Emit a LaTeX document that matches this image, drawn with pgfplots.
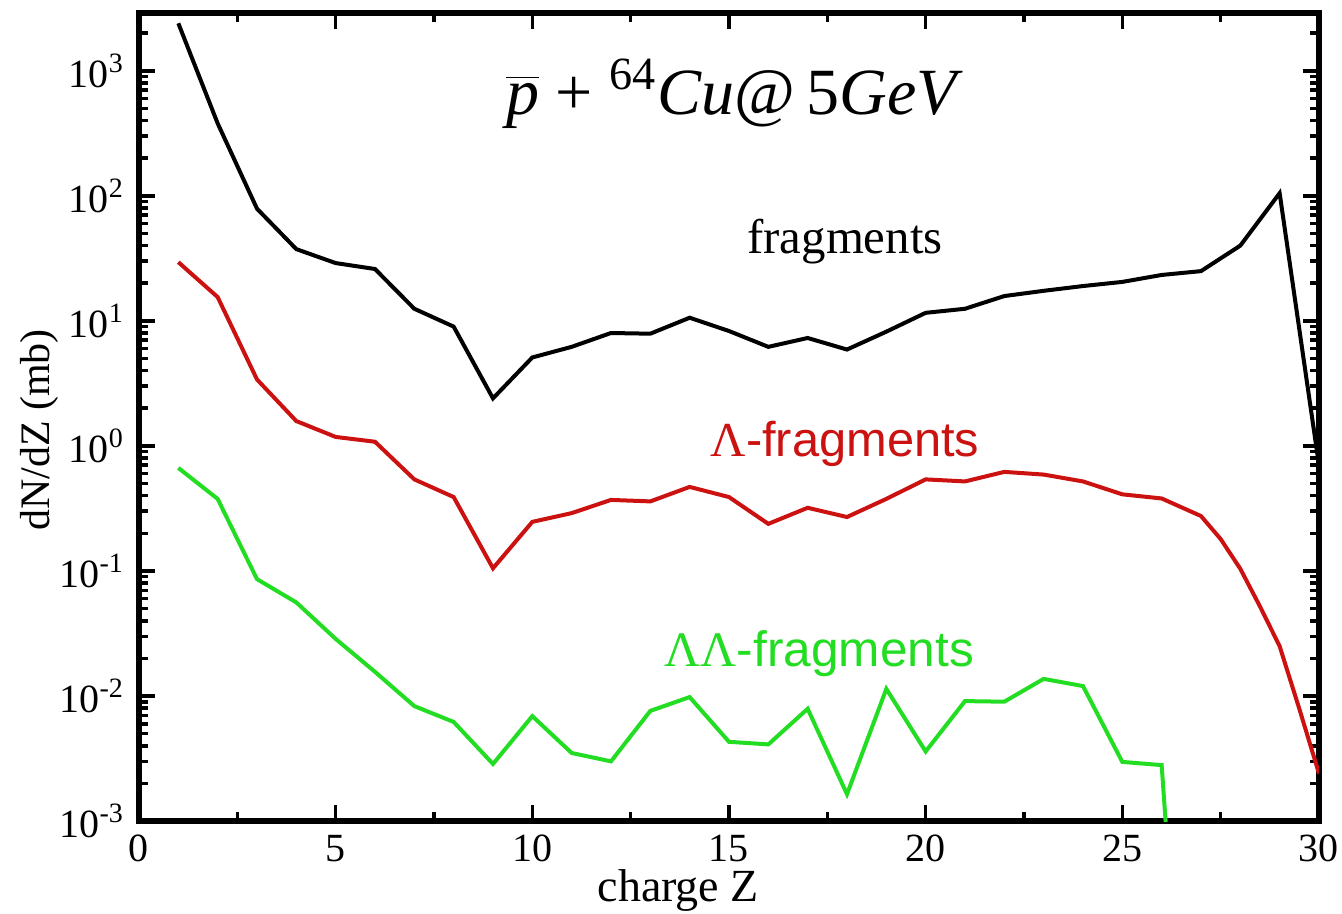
\documentclass[border=0pt]{standalone}
\usepackage{fontspec}
\setmainfont{Liberation Serif}
\setsansfont{Liberation Sans}
\usepackage{pgfplots}
\pgfplotsset{compat=1.18}
\definecolor{myred}{RGB}{204,17,17}
\definecolor{mygreen}{RGB}{34,221,34}
\begin{document}
\begin{tikzpicture}
\useasboundingbox (-34.75pt,-23pt) rectangle (300.75pt,205.25pt);
\begin{axis}[
  at={(0,0)}, anchor=south west,
  scale only axis, width=295pt, height=202pt,
  ymode=log, xmin=0, xmax=30, ymin=1e-3, ymax=2900,
  axis line style={line width=1.5pt},
  every tick/.style={black, line width=0.9pt},
  tick align=inside,
  xtick={0,5,...,30},
  minor xtick={2.5,7.5,...,27.5},
  ytick={1e-3,1e-2,1e-1,1,10,100,1000},
  yticklabels={10\textsuperscript{-3},10\textsuperscript{-2},10\textsuperscript{-1},10\textsuperscript{0},10\textsuperscript{1},10\textsuperscript{2},10\textsuperscript{3}},
  minor ytick={2e-3,3e-3,4e-3,5e-3,6e-3,7e-3,8e-3,9e-3,
               2e-2,3e-2,4e-2,5e-2,6e-2,7e-2,8e-2,9e-2,
               0.2,0.3,0.4,0.5,0.6,0.7,0.8,0.9,
               2,3,4,5,6,7,8,9,
               20,30,40,50,60,70,80,90,
               200,300,400,500,600,700,800,900,2000},
  major tick length=4pt,
  minor tick length=2.2pt,
  /pgf/number format/assume math mode=true,
  ticklabel style={font=\rmfamily\fontsize{10}{12}\selectfont},
  xlabel={charge Z},
  ylabel={dN/dZ (mb)},
  xlabel style={font=\rmfamily\fontsize{11.5}{13}\selectfont, at={(axis description cs:0.457,-0.086)}, anchor=center},
  ylabel style={font=\rmfamily\fontsize{10.5}{12}\selectfont, at={(axis description cs:-0.084,0.484)}, anchor=center},
]
\addplot[black, line width=1pt] coordinates {
(1,2400)(2,380)(3,79)(4,37.5)(5,29)(6,26)(7,12.5)(8,9)(9,2.4)(10,5.1)
(11,6.2)(12,8)(13,7.9)(14,10.6)(15,8.3)(16,6.2)(17,7.3)(18,5.9)(19,8.2)(20,11.6)
(21,12.5)(22,15.8)(23,17.4)(24,19)(25,20.5)(26,23.3)(27,25)(28,40)(29,105)(30,0.7)
};
\addplot[myred, line width=1pt] coordinates {
(1,29.5)(2,15.5)(3,3.4)(4,1.58)(5,1.18)(6,1.08)(7,0.54)(8,0.39)(9,0.105)(10,0.247)
(11,0.29)(12,0.37)(13,0.36)(14,0.47)(15,0.39)(16,0.238)(17,0.32)(18,0.27)(19,0.377)(20,0.54)
(21,0.52)(22,0.62)(23,0.59)(24,0.52)(25,0.41)(26,0.38)(27,0.275)(27.5,0.18)(28,0.104)
(28.5,0.052)(29,0.025)(29.5,0.0079)(30,0.0024)
};
\addplot[mygreen, line width=1pt] coordinates {
(1,0.667)(2,0.377)(3,0.086)(4,0.056)(5,0.0286)(6,0.0156)(7,0.0083)(8,0.0062)(9,0.00286)(10,0.0069)
(11,0.0035)(12,0.0030)(13,0.0076)(14,0.0098)(15,0.0043)(16,0.0041)(17,0.0079)(18,0.00164)(19,0.0114)(20,0.0036)
(21,0.0091)(22,0.0090)(23,0.0137)(24,0.012)(25,0.00297)(26,0.0028)(27,1e-7)
};
\node[font=\fontsize{16.5}{18}\selectfont] at (axis cs:15.15,660)
  {\ensuremath{\overline{\mbox{\textit{p}}}} + \textsuperscript{64}\textit{Cu}@\,5\textit{GeV}};
\node[font=\fontsize{12.2}{14}\selectfont] at (axis cs:17.95,43) {fragments};
\node[font=\fontsize{12.2}{14}\selectfont\sffamily, text=myred] at (axis cs:17.95,1.04) {{\rmfamily Λ}-fragments};
\node[font=\fontsize{12.4}{14}\selectfont\sffamily, text=mygreen] at (axis cs:17.3,0.0217) {{\rmfamily ΛΛ}-fragments};
\end{axis}
\end{tikzpicture}
\end{document}
